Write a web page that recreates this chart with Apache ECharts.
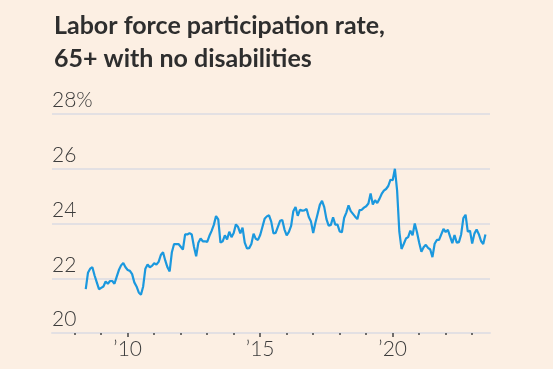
<!DOCTYPE html>
<html>
<head>
<meta charset="utf-8">
<style>
  html, body { margin: 0; padding: 0; background: #FCEFE3; }
  #chart { width: 553px; height: 369px; }
</style>
<script src="https://cdn.jsdelivr.net/npm/echarts@6/dist/echarts.min.js"></script>
</head>
<body>
<div id="chart"></div>
<script>
// Monthly series, June 2008 through July 2023 (percent)
const startYear = 2008;
const startMonth = 6;
const values = [
  21.6, 22.2, 22.35, 22.4, 22.1, 21.85, 21.6, 21.65, 21.7, 21.88, 21.8, 21.9,
  21.9, 21.8, 22.05, 22.3, 22.47, 22.56, 22.4, 22.3, 22.27, 22.15, 21.85, 21.7,
  21.48, 21.4, 21.7, 22.35, 22.5, 22.4, 22.45, 22.55, 22.5, 22.6, 22.85, 22.95,
  22.65, 22.4, 22.25, 22.95, 23.25, 23.25, 23.25, 23.15, 23.05, 23.6, 23.6, 23.65,
  23.6, 23.15, 22.8, 23.3, 23.45, 23.35, 23.35, 23.33, 23.55, 23.73, 23.95, 24.27,
  24.15, 23.3, 23.35, 23.57, 23.42, 23.7, 23.5, 23.65, 23.97, 23.87, 23.64, 23.85,
  23.3, 23.09, 23.1, 23.25, 23.63, 23.44, 23.4, 23.58, 23.87, 24.17, 24.26, 24.3,
  24.07, 23.64, 23.66, 23.88, 24.1, 24.13, 23.78, 23.57, 23.69, 23.91, 24.45, 24.6,
  24.28, 24.5, 24.47, 24.48, 24.53, 24.24, 24.07, 23.65, 24.03, 24.35, 24.68, 24.83,
  24.6, 24.16, 23.92, 23.95, 24.23, 23.96, 23.96, 23.71, 23.68, 24.2, 24.4, 24.66,
  24.45, 24.35, 24.25, 24.16, 24.49, 24.5, 24.58, 24.63, 24.73, 25.1, 24.69, 24.85,
  24.75, 24.9, 25.08, 25.2, 25.26, 25.37, 25.6, 25.58, 26.0, 25.2, 23.7, 23.07,
  23.25, 23.45, 23.5, 23.74, 23.57, 24.0, 23.68, 23.3, 22.97, 23.13, 23.22, 23.11,
  23.05, 22.77, 23.26, 23.4, 23.4, 23.6, 23.8, 23.69, 23.77, 23.52, 23.28, 23.58,
  23.3, 23.32, 23.6, 24.2, 24.32, 23.7, 23.74, 23.27, 23.63, 23.78, 23.61, 23.36,
  23.25, 23.6
];
const yTicks = [20, 22, 24, 26, 28];
const yearTicks = [2008, 2009, 2010, 2011, 2012, 2013, 2014, 2015, 2016, 2017, 2018, 2019, 2020, 2021, 2022, 2023];
const labelYears = [2010, 2015, 2020];
const titleText = 'Labor force participation rate,\n65+ with no disabilities';

const seriesData = values.map((v, i) => {
  const m = startMonth - 1 + i;
  const t = startYear + Math.floor(m / 12) + (m % 12) / 12;
  return [t, v];
});

const chart = echarts.init(document.getElementById('chart'), null, { renderer: 'canvas' });
const labelFont = { fontFamily: 'Lato', fontSize: 21, fontWeight: 300, color: '#3c3c3c' };
chart.setOption({
  backgroundColor: '#FCEFE3',
  animation: false,
  title: {
    text: titleText,
    left: 49,
    top: 4,
    textStyle: { fontFamily: 'Lato', fontWeight: 'bold', fontSize: 25, lineHeight: 33, color: '#2e2e2e' }
  },
  grid: { left: 52, right: 63, top: 114, bottom: 36 },
  xAxis: [{
    type: 'value',
    min: 2007.143,
    max: 2023.672,
    axisLine: { show: true, lineStyle: { color: '#E3E0E3', width: 2 } },
    axisTick: { show: true, customValues: yearTicks.filter(y => labelYears.indexOf(y) < 0), length: 2, lineStyle: { color: '#444', width: 1.5 } },
    axisLabel: { show: false },
    splitLine: { show: false }
  }, {
    type: 'value',
    min: 2007.143,
    max: 2023.672,
    position: 'bottom',
    axisLine: { show: false },
    axisTick: { show: true, customValues: labelYears, length: 4, lineStyle: { color: '#444', width: 1.5 } },
    axisLabel: Object.assign({ customValues: labelYears, margin: 6, formatter: v => '\u2019' + String(v).slice(2) }, labelFont),
    splitLine: { show: false }
  }],
  yAxis: {
    type: 'value',
    min: 20,
    max: 28,
    interval: 2,
    axisLine: { show: false },
    axisTick: { show: false },
    splitLine: { show: true, lineStyle: { color: '#E3E0E3', width: 2 } },
    axisLabel: Object.assign({
      inside: true,
      margin: 0,
      verticalAlign: 'bottom',
      padding: [0, 0, 3, 0],
      formatter: v => v === 28 ? '28%' : String(v)
    }, labelFont)
  },
  series: [{
    type: 'line',
    xAxisIndex: 0,
    data: seriesData,
    showSymbol: false,
    lineStyle: { color: '#1B98DE', width: 2.2 },
    itemStyle: { color: '#1B98DE' }
  }]
});
</script>
</body>
</html>
